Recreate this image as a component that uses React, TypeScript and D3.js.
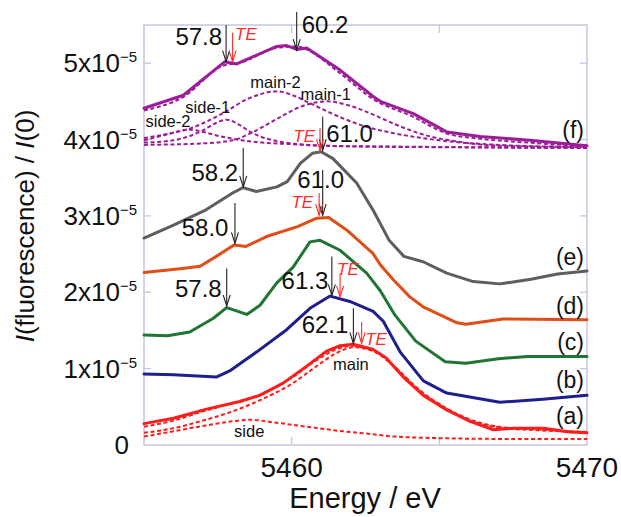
import React from 'react';
import * as d3 from 'd3';

type P = [number, number];

// Energy (eV) and intensity (units of 1e-5)
const energyLabelTicks = [5460, 5470];
const energyMinorTicks = [5460, 5465];
const intensityTicks = [0, 1, 2, 3, 4, 5];

const seriesA: P[] = [[5455.0,0.28],[5456.0,0.35],[5457.12,0.47],[5458.25,0.57],[5458.92,0.65],[5459.71,0.81],[5460.5,1.03],[5461.18,1.23],[5461.64,1.30],[5462.08,1.32],[5462.76,1.25],[5463.2,1.14],[5463.78,0.89],[5464.46,0.65],[5465.25,0.46],[5466.04,0.31],[5466.83,0.20],[5467.5,0.22],[5468.52,0.22],[5469.42,0.17],[5470,0.16]];
const fitA: P[] = [[5455,0.24],[5456,0.32],[5457,0.44],[5458,0.55],[5459,0.67],[5460,0.88],[5460.8,1.10],[5461.5,1.25],[5462.1,1.30],[5462.8,1.24],[5463.5,1.02],[5464.3,0.73],[5465.2,0.49],[5466,0.34],[5467,0.24],[5468.5,0.20],[5470,0.17]];
const mainA: P[] = [[5455,0.16],[5456,0.22],[5457,0.32],[5458,0.44],[5459,0.60],[5460,0.80],[5460.8,1.02],[5461.5,1.20],[5462.1,1.28],[5462.8,1.22],[5463.5,1.02],[5464.3,0.72],[5465.2,0.48],[5466,0.33],[5467,0.23],[5468.5,0.19],[5470,0.17]];
const sideA: P[] = [[5455,0.11],[5456,0.18],[5457,0.25],[5458,0.31],[5458.6,0.33],[5459.5,0.29],[5460.5,0.24],[5461.5,0.19],[5462.5,0.15],[5463.5,0.11],[5465,0.09],[5467,0.08],[5470,0.08]];

const seriesB: P[] = [[5455.0,0.93],[5456.0,0.92],[5457.45,0.89],[5457.9,0.97],[5458.82,1.22],[5459.83,1.51],[5460.62,1.79],[5461.3,1.95],[5461.97,1.88],[5462.76,1.75],[5463.1,1.62],[5463.67,1.22],[5464.46,0.84],[5465.25,0.68],[5467.05,0.56],[5468.5,0.60],[5470,0.65]];

const seriesC: P[] = [[5455.0,1.44],[5455.8,1.43],[5456.55,1.48],[5457.35,1.66],[5457.8,1.80],[5458.48,1.71],[5458.93,1.83],[5459.49,2.12],[5460.05,2.33],[5460.62,2.66],[5460.96,2.68],[5461.64,2.55],[5462.54,2.25],[5463.0,2.02],[5463.5,1.70],[5464.2,1.36],[5465.2,1.09],[5465.9,1.07],[5467.0,1.13],[5468.0,1.16],[5470,1.16]];

const seriesD: P[] = [[5455.0,2.26],[5456.3,2.31],[5456.9,2.34],[5457.45,2.47],[5458.05,2.62],[5458.45,2.60],[5459.15,2.73],[5460.2,2.86],[5460.85,2.97],[5461.25,2.98],[5461.85,2.82],[5462.75,2.51],[5463.0,2.36],[5463.45,2.16],[5464.0,1.94],[5464.45,1.81],[5465.6,1.60],[5465.9,1.58],[5467.15,1.65],[5470,1.64]];

const seriesE: P[] = [[5455.0,2.71],[5456.0,2.88],[5457.1,3.08],[5458.0,3.30],[5458.35,3.37],[5458.8,3.32],[5459.5,3.38],[5459.85,3.45],[5460.3,3.69],[5460.7,3.82],[5461.0,3.84],[5461.4,3.75],[5462.2,3.43],[5462.75,3.08],[5463.0,2.90],[5463.3,2.68],[5463.8,2.47],[5464.45,2.40],[5465.25,2.25],[5466.15,2.14],[5467.05,2.11],[5468.1,2.17],[5469.0,2.24],[5470,2.28]];

const seriesF: P[] = [[5455,4.41],[5456.33,4.58],[5457.74,5.02],[5458.14,4.99],[5459.49,5.22],[5459.83,5.23],[5460.17,5.18],[5460.51,5.20],[5461.64,4.91],[5462.77,4.56],[5463.0,4.50],[5464.12,4.34],[5465.25,4.10],[5466.38,4.04],[5468.07,3.99],[5470,3.92]];
const fitF: P[] = [[5455,4.38],[5456.3,4.55],[5457.7,4.97],[5458.2,5.00],[5459.5,5.20],[5460.2,5.22],[5460.5,5.18],[5461.6,4.88],[5462.8,4.52],[5464.1,4.30],[5465.25,4.08],[5466.4,4.01],[5468,3.96],[5470,3.91]];
const sideTwoF: P[] = [[5455,3.99],[5455.5,4.04],[5456,4.09],[5456.5,4.13],[5457,4.10],[5457.5,4.05],[5458,4.01],[5459,3.96],[5460,3.94],[5461,3.92],[5463,3.91],[5466,3.90],[5470,3.89]];
const sideOneF: P[] = [[5455,3.96],[5456,3.99],[5456.5,4.04],[5457,4.12],[5457.4,4.21],[5457.8,4.26],[5458.2,4.20],[5458.6,4.10],[5459,4.03],[5459.5,3.98],[5460.5,3.93],[5462,3.91],[5465,3.90],[5470,3.89]];
const mainTwoF: P[] = [[5455,4.02],[5456,4.09],[5456.6,4.15],[5457.2,4.25],[5457.7,4.35],[5458.5,4.53],[5459.5,4.63],[5460.1,4.57],[5460.6,4.48],[5461.6,4.30],[5462.5,4.17],[5463.5,4.08],[5465,3.99],[5467,3.93],[5470,3.90]];
const mainOneF: P[] = [[5455,3.93],[5457,3.95],[5458,3.99],[5458.6,4.08],[5459.5,4.27],[5460.3,4.43],[5461.2,4.50],[5462,4.44],[5462.8,4.32],[5463.5,4.20],[5464.5,4.06],[5465.5,3.98],[5467,3.92],[5470,3.90]];

const curveLabels = ['(a)', '(b)', '(c)', '(d)', '(e)', '(f)'];
const curveLabelValues = [0.28, 0.74, 1.25, 1.72, 2.36, 4.02];

// Peak annotations: energy, arrow start value, arrow tip value, label
const peakEnergies = [5457.78, 5460.17, 5461.05, 5458.36, 5461.05, 5458.08, 5457.8, 5461.36, 5462.09];
const peakStarts = [5.5, 5.67, 4.30, 3.89, 3.60, 3.17, 2.31, 2.47, 1.79];
const peakTips = [5.02, 5.17, 3.86, 3.38, 3.01, 2.64, 1.82, 1.96, 1.33];
const peakLabels = ['57.8', '60.2', '61.0', '58.2', '61.0', '58.0', '57.8', '61.3', '62.1'];

const teEnergies = [5458.0, 5460.96, 5460.93, 5461.64, 5462.37];
const teStarts = [5.40, 4.15, 3.30, 2.25, 1.61];
const teTips = [5.02, 3.86, 3.01, 1.94, 1.33];

const componentLabels = ['main-2', 'main-1', 'side-1', 'side-2', 'main', 'side'];
const componentLabelPos: P[] = [[5458.6, 4.67], [5460.3, 4.52], [5456.4, 4.35], [5455.05, 4.17], [5461.4, 0.98], [5458.05, 0.11]];

// layout for the peak labels (dx, dy from arrow start, anchor)
const peakLabelLayout: { dx: number; dy: number; anchor: string }[] = [
  { dx: -4, dy: 20, anchor: 'end' },
  { dx: 5, dy: 21, anchor: 'start' },
  { dx: 3.5, dy: 25, anchor: 'start' },
  { dx: -5, dy: 33, anchor: 'end' },
  { dx: -2, dy: 18, anchor: 'middle' },
  { dx: -6.5, dy: 33, anchor: 'end' },
  { dx: -5, dy: 28, anchor: 'end' },
  { dx: -3.5, dy: 33, anchor: 'end' },
  { dx: -5, dy: 25, anchor: 'end' },
];
const teLabelLayout: { dx: number; dy: number; anchor: string }[] = [
  { dx: 2.5, dy: 7, anchor: 'start' },
  { dx: -5, dy: 14, anchor: 'end' },
  { dx: -6, dy: 15, anchor: 'end' },
  { dx: -3, dy: 2, anchor: 'start' },
  { dx: 3.5, dy: 23, anchor: 'start' },
];

const COLORS = {
  a: '#ff1c1c',
  b: '#1e1e8e',
  c: '#1f7632',
  d: '#e04e18',
  e: '#5e5e5e',
  f: '#9c1c9a',
};

const FONT = 'Liberation Sans, Arial, Helvetica, sans-serif';

export default function App() {
  const W = 621;
  const H = 517;
  const x = d3.scaleLinear().domain([5455, 5470]).range([144, 587]);
  const y = d3.scaleLinear().domain([0, 5.5]).range([445, 25]);
  const straight = d3.line<P>().x((d) => x(d[0])).y((d) => y(d[1])).curve(d3.curveLinear);
  const smooth = d3.line<P>().x((d) => x(d[0])).y((d) => y(d[1])).curve(d3.curveMonotoneX);

  const [x0, x1] = x.range();
  const [yb, yt] = y.range();
  const frame = '#c6c6e2';
  const dash = '4 2.6';

  const arrow = (xe: number, ys: number, yTip: number, color: string, key: string) => (
    <g key={key} stroke={color} strokeWidth={1.1} fill="none">
      <line x1={xe} y1={ys} x2={xe} y2={yTip} />
      <path d={`M${xe - 3.5},${yTip - 11} L${xe},${yTip} L${xe + 3.5},${yTip - 11}`} />
    </g>
  );

  return (
    <svg width={W} height={H} style={{ position: 'absolute', left: 0, top: 0, background: '#fff' }} fontFamily={FONT}>
      {/* frame */}
      <rect x={x0} y={yt} width={x1 - x0} height={yb - yt} fill="none" stroke={frame} strokeWidth={1.5} />
      {intensityTicks.filter((t) => t > 0).map((t) => (
        <g key={'yt' + t} stroke={frame} strokeWidth={1.3}>
          <line x1={x0} x2={x0 + 7} y1={y(t)} y2={y(t)} />
          <line x1={x1} x2={x1 - 7} y1={y(t)} y2={y(t)} />
        </g>
      ))}
      {energyMinorTicks.map((t) => (
        <g key={'xt' + t} stroke={frame} strokeWidth={1.3}>
          <line x1={x(t)} x2={x(t)} y1={yb} y2={yb - 8} />
          <line x1={x(t)} x2={x(t)} y1={yt} y2={yt + 8} />
        </g>
      ))}

      {/* y tick labels */}
      {intensityTicks.map((t) =>
        t === 0 ? (
          <text key={'yl' + t} x={129} y={y(t) + 9} fontSize={26} textAnchor="end" fill="#111">0</text>
        ) : (
          <text key={'yl' + t} x={137} y={y(t) + 9} fontSize={26} textAnchor="end" fill="#111">
            {`${t}x10`}
            <tspan fontSize={15} dy={-10}>−5</tspan>
          </text>
        )
      )}
      {/* x tick labels */}
      {energyLabelTicks.map((t) => (
        <text key={'xl' + t} x={x(t)} y={477} fontSize={28} textAnchor="middle" fill="#111">{t}</text>
      ))}
      <text x={365} y={508} fontSize={29} textAnchor="middle" fill="#111">Energy / eV</text>
      <text transform="translate(34,226) rotate(-90)" fontSize={26} textAnchor="middle" fill="#111">
        <tspan fontStyle="italic">I</tspan>(fluorescence) / <tspan fontStyle="italic">I</tspan>(0)
      </text>

      {/* (f) components */}
      <g fill="none" stroke={COLORS.f} strokeWidth={2} strokeDasharray={dash}>
        {[sideTwoF, sideOneF, mainTwoF, mainOneF, fitF].map((s, i) => (
          <path key={'fc' + i} d={smooth(s) || ''} />
        ))}
      </g>
      {/* (a) components */}
      <g fill="none" stroke={COLORS.a} strokeWidth={2} strokeDasharray={dash}>
        {[sideA, mainA, fitA].map((s, i) => (
          <path key={'ac' + i} d={smooth(s) || ''} />
        ))}
      </g>

      {/* measured spectra */}
      <g fill="none" strokeWidth={3} strokeLinejoin="round" strokeLinecap="round">
        <path d={straight(seriesE) || ''} stroke={COLORS.e} />
        <path d={straight(seriesD) || ''} stroke={COLORS.d} />
        <path d={straight(seriesC) || ''} stroke={COLORS.c} />
        <path d={straight(seriesB) || ''} stroke={COLORS.b} />
        <path d={straight(seriesA) || ''} stroke={COLORS.a} />
        <path d={straight(seriesF) || ''} stroke={COLORS.f} />
      </g>

      {/* curve labels */}
      {curveLabels.map((l, i) => (
        <text key={l} x={584} y={y(curveLabelValues[i])} fontSize={23} textAnchor="end" fill="#111">{l}</text>
      ))}

      {/* component labels */}
      {componentLabels.map((l, i) => (
        <text key={'cl' + i} x={x(componentLabelPos[i][0])} y={y(componentLabelPos[i][1])} fontSize={16.5} fill="#111">{l}</text>
      ))}

      {/* peak arrows */}
      {peakEnergies.map((e, i) => {
        const px = x(e);
        const ys = y(peakStarts[i]);
        const lay = peakLabelLayout[i];
        return (
          <g key={'pk' + i}>
            {arrow(px, ys, y(peakTips[i]), '#222', 'pa' + i)}
            <text x={px + lay.dx} y={ys + lay.dy} fontSize={24} textAnchor={lay.anchor as any} fill="#111">{peakLabels[i]}</text>
          </g>
        );
      })}
      {teEnergies.map((e, i) => {
        const px = x(e);
        const ys = y(teStarts[i]);
        const lay = teLabelLayout[i];
        return (
          <g key={'te' + i}>
            {arrow(px, ys, y(teTips[i]), '#ff2b2b', 'ta' + i)}
            <text x={px + lay.dx} y={ys + lay.dy} fontSize={17} fontStyle="italic" textAnchor={lay.anchor as any} fill="#ff2b2b">TE</text>
          </g>
        );
      })}
    </svg>
  );
}
